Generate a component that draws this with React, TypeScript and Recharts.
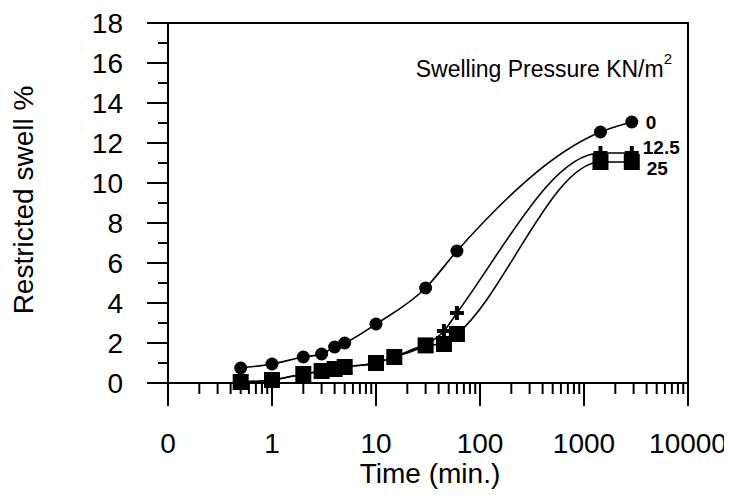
import { LineChart, Line, XAxis, YAxis, ReferenceArea } from 'recharts'

// time (min) and restricted swell (%) per swelling pressure (kN/m2)
const time0 = [0.5, 1, 2, 3, 4, 5, 10, 30, 60, 1440, 2880]
const swell0 = [0.75, 0.95, 1.3, 1.45, 1.8, 2.0, 2.95, 4.75, 6.6, 12.55, 13.05]

const time125 = [0.5, 1, 2, 3, 4, 5, 10, 15, 30, 45, 60, 1440, 2880]
const swell125 = [0.05, 0.15, 0.45, 0.6, 0.7, 0.8, 1.0, 1.3, 1.9, 2.6, 3.5, 11.5, 11.5]

const time25 = [0.5, 1, 2, 3, 4, 5, 10, 15, 30, 45, 60, 1440, 2880]
const swell25 = [0.05, 0.15, 0.45, 0.6, 0.7, 0.8, 1.0, 1.3, 1.88, 1.95, 2.45, 11.05, 11.05]

const xMajor = [0.1, 1, 10, 100, 1000, 10000]
const xMinorSteps = [2, 3, 4, 5, 6, 7, 8, 9]
const yTicks = [0, 1, 2, 3, 4, 5, 6, 7, 8, 9, 10, 11, 12, 13, 14, 15, 16, 17, 18]

const FONT = '"Liberation Sans", Arial, sans-serif'

const toRows = (t: number[], v: number[]) => t.map((x, i) => ({ t: x, v: v[i] }))
const data0 = toRows(time0, swell0)
const data125 = toRows(time125, swell125)
const data25 = toRows(time25, swell25)

const xTicks: number[] = []
xMajor.forEach((m, i) => {
  xTicks.push(m)
  if (i < xMajor.length - 1) xMinorSteps.forEach(k => xTicks.push(k * m))
})

const isMajor = (v: number) => xMajor.some(m => Math.abs(m - v) / m < 1e-6)

const XTick = (props: any) => {
  const { x, y, payload } = props
  const v = payload.value
  const major = isMajor(v)
  return (
    <g>
      <line x1={x} x2={x} y1={y} y2={y + (major ? 23 : 11)} stroke="#000" strokeWidth={2} />
      {major && (
        <text x={x} y={y + 70} textAnchor="middle" fontSize={28} fontFamily={FONT} fill="#000">
          {v < 1 ? '0' : String(Math.round(v))}
        </text>
      )}
    </g>
  )
}

const YTick = (props: any) => {
  const { x, y, payload } = props
  const v = payload.value
  const major = v % 2 === 0
  return (
    <g>
      <line x1={x - (major ? 21 : 10)} x2={x} y1={y} y2={y} stroke="#000" strokeWidth={2} />
      {major && (
        <text x={x - 45} y={y + 10} textAnchor="end" fontSize={28} fontFamily={FONT} fill="#000">
          {v}
        </text>
      )}
    </g>
  )
}

const endLabel = (text: string, x: number, y: number) => (
  <text x={x} y={y} fontSize={19} fontWeight="bold" fontFamily={FONT} fill="#000" dominantBaseline="central">
    {text}
  </text>
)

const CircleDot = (props: any) => {
  const { cx, cy, index } = props
  return (
    <g key={`c-${index}`}>
      <circle cx={cx} cy={cy} r={6.5} fill="#000" />
      {index === time0.length - 1 && endLabel('0', cx + 14, cy)}
    </g>
  )
}

const PlusDot = (props: any) => {
  const { cx, cy, index } = props
  return (
    <g key={`p-${index}`}>
      <rect x={cx - 7} y={cy - 2} width={14} height={4} fill="#000" />
      <rect x={cx - 2} y={cy - 7} width={4} height={14} fill="#000" />
      {index === time125.length - 1 && endLabel('12.5', cx + 11, cy - 6)}
    </g>
  )
}

const SquareDot = (props: any) => {
  const { cx, cy, index } = props
  return (
    <g key={`s-${index}`}>
      <rect x={cx - 8} y={cy - 8} width={16} height={16} fill="#000" />
      {index === time25.length - 1 && endLabel('25', cx + 15, cy + 6)}
    </g>
  )
}

export default function App() {
  return (
    <div style={{ width: 724, height: 487 }}>
      <LineChart width={724} height={487} margin={{ top: 15, right: 44, bottom: 32, left: 100 }}>
        <XAxis
          dataKey="t"
          type="number"
          scale="log"
          domain={[0.1, 10000]}
          ticks={xTicks}
          interval={0}
          allowDataOverflow
          height={80}
          tickSize={0}
          tickMargin={0}
          tickLine={false}
          tick={<XTick />}
          axisLine={{ stroke: '#000', strokeWidth: 2 }}
          label={{
            content: () => (
              <text x={422} y={475} textAnchor="middle" fontSize={28} fontFamily={FONT} fill="#000">
                Time (min.)
              </text>
            ),
          }}
        />
        <YAxis
          type="number"
          domain={[0, 18]}
          ticks={yTicks}
          interval={0}
          width={60}
          tickSize={0}
          tickMargin={0}
          tickLine={false}
          tick={<YTick />}
          axisLine={{ stroke: '#000', strokeWidth: 2 }}
          label={{
            content: () => (
              <text
                x={15}
                y={192}
                transform="rotate(-90 15 192)"
                textAnchor="middle"
                dominantBaseline="central"
                fontSize={28}
                fontFamily={FONT}
                fill="#000"
              >
                Restricted swell %
              </text>
            ),
          }}
        />
        <ReferenceArea
          x1={0.1}
          x2={10000}
          y1={0}
          y2={18}
          fill="none"
          stroke="#000"
          strokeWidth={2}
          ifOverflow="visible"
          label={{
            content: () => (
              <text x={664} y={69} textAnchor="end" fontSize={23} fontFamily={FONT} fill="#000">
                Swelling Pressure KN/m
                <tspan dy={-13} fontSize={15}>2</tspan>
              </text>
            ),
          }}
        />
        <Line
          data={data0}
          dataKey="v"
          type="monotone"
          stroke="#000"
          strokeWidth={1.6}
          dot={(p: any) => <CircleDot key={`c-${p.index}`} {...p} />}
          isAnimationActive={false}
        />
        <Line
          data={data125}
          dataKey="v"
          type="monotone"
          stroke="#000"
          strokeWidth={1.6}
          dot={(p: any) => <PlusDot key={`p-${p.index}`} {...p} />}
          isAnimationActive={false}
        />
        <Line
          data={data25}
          dataKey="v"
          type="monotone"
          stroke="#000"
          strokeWidth={1.6}
          dot={(p: any) => <SquareDot key={`s-${p.index}`} {...p} />}
          isAnimationActive={false}
        />
      </LineChart>
    </div>
  )
}
